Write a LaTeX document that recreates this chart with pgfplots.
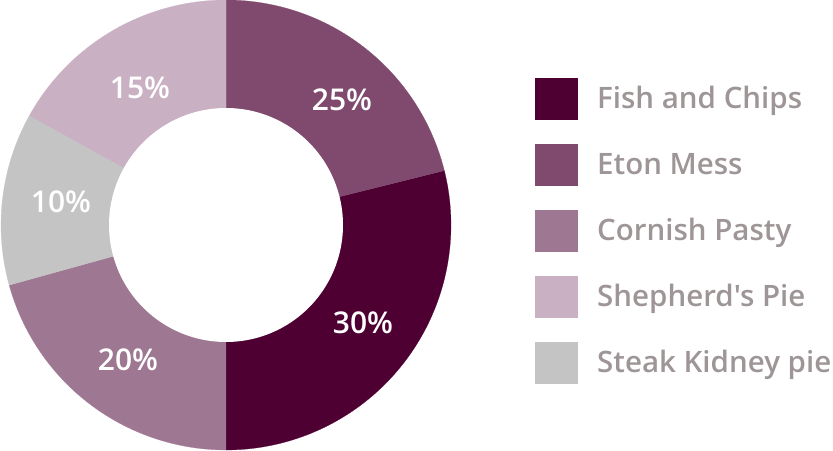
\documentclass[border=0pt]{standalone}
\usepackage{fontspec}
\setmainfont{Open Sans}
\IfFontExistsTF{Open Sans Semibold}
  {\newfontfamily\sbf{Open Sans Semibold}}
  {\IfFontExistsTF{Open Sans SemiBold:style=SemiBold}
    {\newfontfamily\sbf{Open Sans SemiBold:style=SemiBold}}
    {\newfontfamily\sbf{Open Sans}[FakeBold=1.3]}}
\usepackage{pgfplots}
\pgfplotsset{compat=1.18}
\definecolor{cFish}{HTML}{4F0033}
\definecolor{cEton}{HTML}{7F4A6E}
\definecolor{cCorn}{HTML}{9E7792}
\definecolor{cShep}{HTML}{C9B0C3}
\definecolor{cSteak}{HTML}{C4C4C4}
\definecolor{cText}{HTML}{9E9696}
% slice boundaries (degrees, counter-clockwise from east)
\def\Ro{225}\def\Ri{117}
\begin{document}
\begin{tikzpicture}
\begin{axis}[
  scale only axis, width=833pt, height=450pt,
  xmin=-226, xmax=607, ymin=-225, ymax=225,
  axis lines=none, clip=false,
  legend cell align=left,
  legend image code/.code={\fill[#1] (0pt,-20.5pt) rectangle (42pt,20.5pt);},
  legend style={at={(axis cs:309,159.5)}, anchor=north west, draw=none, fill=none,
    inner sep=0pt, outer sep=0pt, row sep=0pt, column sep=20pt,
    font=\sbf\fontsize{29.5}{29.5}\selectfont\color{cText},
    nodes={inner sep=0pt, minimum height=66pt}},
]
\addplot[fill=cFish, draw=cFish, line width=0.2pt, domain=-90:14, samples=80, variable=\t]
  ({\Ro*cos(t)},{\Ro*sin(t)}) -- (axis cs:0,0) -- cycle;
\addlegendentry{Fish and Chips}
\addplot[fill=cEton, draw=cEton, line width=0.2pt, domain=14:90, samples=80, variable=\t]
  ({\Ro*cos(t)},{\Ro*sin(t)}) -- (axis cs:0,0) -- cycle;
\addlegendentry{Eton Mess}
\addplot[fill=cCorn, draw=cCorn, line width=0.2pt, domain=195.5:270, samples=80, variable=\t]
  ({\Ro*cos(t)},{\Ro*sin(t)}) -- (axis cs:0,0) -- cycle;
\addlegendentry{Cornish Pasty}
\addplot[fill=cShep, draw=cShep, line width=0.2pt, domain=90:151, samples=80, variable=\t]
  ({\Ro*cos(t)},{\Ro*sin(t)}) -- (axis cs:0,0) -- cycle;
\addlegendentry{Shepherd's Pie}
\addplot[fill=cSteak, draw=cSteak, line width=0.2pt, domain=151:195.5, samples=80, variable=\t]
  ({\Ro*cos(t)},{\Ro*sin(t)}) -- (axis cs:0,0) -- cycle;
\addlegendentry{Steak Kidney pie}
\addplot[fill=white, draw=none, domain=0:360, samples=181, variable=\t, forget plot]
  ({\Ri*cos(t)},{\Ri*sin(t)}) -- cycle;
\begin{scope}[font=\sbf\fontsize{30}{30}\selectfont, text=white]
\node at (axis cs:116,125) {25\%};
\node at (axis cs:137,-98) {30\%};
\node at (axis cs:-98,-135) {20\%};
\node at (axis cs:-165,23) {10\%};
\node at (axis cs:-86,137) {15\%};
\end{scope}
\end{axis}
\pgfresetboundingbox
\path[use as bounding box] (current axis.south west) rectangle (current axis.north east);
\end{tikzpicture}
\end{document}
